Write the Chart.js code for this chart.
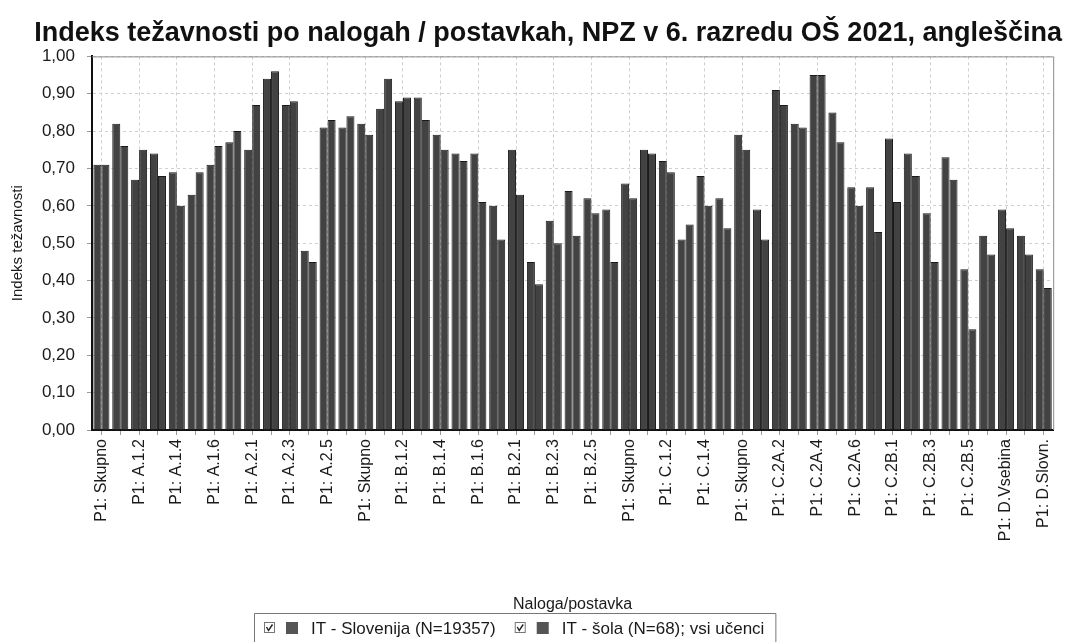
<!DOCTYPE html>
<html>
<head>
<meta charset="utf-8">
<script src="https://cdn.jsdelivr.net/npm/chart.js@4"></script>
<style>
  html, body { margin: 0; padding: 0; background: #fff; }
  #wrap { width: 1067px; height: 642px; }
</style>
</head>
<body>
<div id="wrap"><canvas id="npzChart" width="1067" height="642"></canvas></div>
<script>
// Naloge / postavke (prikazana je vsaka druga oznaka)
const categories = [
  'P1: Skupno', 'P1: A.1.1', 'P1: A.1.2', 'P1: A.1.3', 'P1: A.1.4', 'P1: A.1.5', 'P1: A.1.6',
  'P1: A.1.7', 'P1: A.2.1', 'P1: A.2.2', 'P1: A.2.3', 'P1: A.2.4', 'P1: A.2.5', 'P1: A.2.6',
  'P1: Skupno', 'P1: B.1.1', 'P1: B.1.2', 'P1: B.1.3', 'P1: B.1.4', 'P1: B.1.5', 'P1: B.1.6',
  'P1: B.1.7', 'P1: B.2.1', 'P1: B.2.2', 'P1: B.2.3', 'P1: B.2.4', 'P1: B.2.5', 'P1: B.2.6',
  'P1: Skupno', 'P1: C.1.1', 'P1: C.1.2', 'P1: C.1.3', 'P1: C.1.4', 'P1: C.1.5',
  'P1: Skupno', 'P1: C.2A.1', 'P1: C.2A.2', 'P1: C.2A.3', 'P1: C.2A.4', 'P1: C.2A.5', 'P1: C.2A.6',
  'P1: C.2A.7', 'P1: C.2B.1', 'P1: C.2B.2', 'P1: C.2B.3', 'P1: C.2B.4', 'P1: C.2B.5', 'P1: C.2B.6',
  'P1: D.Vsebina', 'P1: D.Zgradba', 'P1: D.Slovn.'
];

// IT - Slovenija (N=19357)
const slovenija = [
  0.71, 0.82, 0.67, 0.74, 0.69, 0.63, 0.71, 0.77, 0.75, 0.94, 0.87, 0.48, 0.81, 0.81,
  0.82, 0.86, 0.88, 0.89, 0.79, 0.74, 0.74, 0.60, 0.75, 0.45, 0.56, 0.64, 0.62, 0.59,
  0.66, 0.75, 0.72, 0.51, 0.68, 0.62,
  0.79, 0.59, 0.91, 0.82, 0.95, 0.85, 0.65, 0.65, 0.78, 0.74, 0.58, 0.73, 0.43, 0.52,
  0.59, 0.52, 0.43
];

// IT - šola (N=68); vsi učenci
const sola = [
  0.71, 0.76, 0.75, 0.68, 0.60, 0.69, 0.76, 0.80, 0.87, 0.96, 0.88, 0.45, 0.83, 0.84,
  0.79, 0.94, 0.89, 0.83, 0.75, 0.72, 0.61, 0.51, 0.63, 0.39, 0.50, 0.52, 0.58, 0.45,
  0.62, 0.74, 0.69, 0.55, 0.60, 0.54,
  0.75, 0.51, 0.87, 0.81, 0.95, 0.77, 0.60, 0.53, 0.61, 0.68, 0.45, 0.67, 0.27, 0.47,
  0.54, 0.47, 0.38
];

const seriesNames = ['IT - Slovenija (N=19357)', 'IT - šola (N=68); vsi učenci'];
const yTicks = [0, 0.1, 0.2, 0.3, 0.4, 0.5, 0.6, 0.7, 0.8, 0.9, 1.0];

const FONT = "'Liberation Sans', Arial, sans-serif";

// okvir zgoraj/desno + legenda s kljukicami
const framePlugin = {
  id: 'frameLegend',
  afterDraw(chart) {
    const { ctx, chartArea: a } = chart;
    ctx.save();
    ctx.strokeStyle = '#8a8a8a';
    ctx.lineWidth = 1;
    ctx.beginPath();
    ctx.moveTo(a.left, a.top + 0.5);
    ctx.lineTo(a.right + 0.5, a.top + 0.5);
    ctx.lineTo(a.right + 0.5, a.bottom);
    ctx.stroke();

    // legenda
    const top = 613, cy = 628;
    ctx.font = '17px ' + FONT;
    ctx.textBaseline = 'middle';
    let x = 264;
    const startX = 254;
    chart.data.datasets.forEach((ds, i) => {
      // kljukica
      ctx.strokeStyle = '#777';
      ctx.lineWidth = 1;
      ctx.strokeRect(x + 0.5, cy - 5.5, 10, 10);
      ctx.strokeStyle = '#222';
      ctx.lineWidth = 1.4;
      ctx.beginPath();
      ctx.moveTo(x + 2.5, cy - 1);
      ctx.lineTo(x + 4.5, cy + 2.5);
      ctx.lineTo(x + 8.5, cy - 3.5);
      ctx.stroke();
      // barvni kvadratek
      ctx.fillStyle = '#555';
      ctx.fillRect(x + 22, cy - 6, 12, 12);
      // besedilo
      ctx.fillStyle = '#1a1a1a';
      ctx.fillText(ds.label, x + 47, cy + 1);
      x += 47 + ctx.measureText(ds.label).width + 19;
    });
    ctx.strokeStyle = '#777';
    ctx.lineWidth = 1;
    ctx.beginPath();
    ctx.moveTo(startX + 0.5, 642);
    ctx.lineTo(startX + 0.5, top + 0.5);
    ctx.lineTo(x - 8 + 0.5, top + 0.5);
    ctx.lineTo(x - 8 + 0.5, 642);
    ctx.stroke();
    ctx.restore();
  }
};

new Chart(document.getElementById('npzChart'), {
  type: 'bar',
  data: {
    labels: categories,
    datasets: [
      {
        label: seriesNames[0],
        data: slovenija,
        backgroundColor: '#424242',
        borderColor: '#1a1a1a',
        borderWidth: 1,
        categoryPercentage: 0.85,
        barPercentage: 1.0
      },
      {
        label: seriesNames[1],
        data: sola,
        backgroundColor: '#424242',
        borderColor: '#1a1a1a',
        borderWidth: 1,
        categoryPercentage: 0.85,
        barPercentage: 1.0
      }
    ]
  },
  options: {
    responsive: false,
    animation: false,
    devicePixelRatio: 1,
    layout: { padding: { top: 0, left: 0, right: 5, bottom: 0 } },
    plugins: {
      legend: { display: false },
      tooltip: { enabled: false },
      title: {
        display: true,
        text: 'Indeks težavnosti po nalogah / postavkah, NPZ v 6. razredu OŠ 2021, angleščina',
        color: '#111',
        font: { family: FONT, size: 27, weight: 'bold' },
        padding: { top: 17, bottom: 7 },
        align: 'end'
      }
    },
    scales: {
      x: {
        afterFit(scale) { scale.height = 212; },
        grid: {
          offset: false,
          color: ctx => (ctx.index % 2 === 0 ? '#cdcdcd' : 'rgba(0,0,0,0)'),
          tickColor: '#9a9a9a',
          tickLength: 5,
          drawTicks: true
        },
        border: { display: true, color: '#111', width: 2, dash: [3, 3] },
        ticks: {
          autoSkip: false,
          minRotation: 90,
          maxRotation: 90,
          padding: 4,
          color: '#1a1a1a',
          font: { family: FONT, size: 16 },
          callback(value, index) {
            return index % 2 === 0 ? categories[index] : '';
          }
        },
        title: {
          display: true,
          text: 'Naloga/postavka',
          color: '#1a1a1a',
          font: { family: FONT, size: 16 },
          padding: { top: 4, bottom: 28 }
        }
      },
      y: {
        min: 0,
        max: 1,
        afterFit(scale) { scale.width = 92; },
        afterBuildTicks(scale) { scale.ticks = yTicks.map(v => ({ value: v })); },
        grid: {
          color: '#d0d0d0',
          tickColor: '#9a9a9a',
          tickLength: 5
        },
        border: { display: true, color: '#111', width: 2, dash: [3, 3] },
        ticks: {
          padding: 12,
          color: '#1a1a1a',
          font: { family: FONT, size: 17 },
          callback: v => v.toFixed(2).replace('.', ',')
        },
        title: {
          display: true,
          text: 'Indeks težavnosti',
          color: '#1a1a1a',
          font: { family: FONT, size: 15 },
          padding: { top: 9, bottom: 0 }
        }
      }
    }
  },
  plugins: [framePlugin]
});
</script>
</body>
</html>
